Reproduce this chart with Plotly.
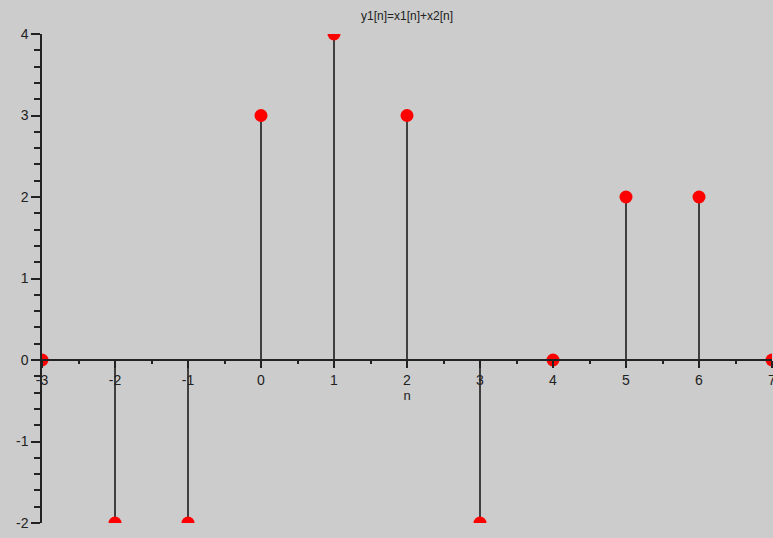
import plotly.graph_objects as go

n = [-3, -2, -1, 0, 1, 2, 3, 4, 5, 6, 7]
y1 = [0, -2, -2, 3, 4, 3, -2, 0, 2, 2, 0]

x_ticks = [-3, -2, -1, 0, 1, 2, 3, 4, 5, 6, 7]
x_ticktext = ["-3", "-2", "-1", "0", "1", "2", "3", "4", "5", "6", "7"]
y_ticks = [-2, -1, 0, 1, 2, 3, 4]
y_ticktext = ["-2", "-1", "0", "1", "2", "3", "4"]

stem_x, stem_y = [], []
for xi, yi in zip(n, y1):
    stem_x += [xi, xi, None]
    stem_y += [0, yi, None]

bg = "#cccccc"
fig = go.Figure()
fig.add_trace(go.Scatter(x=stem_x, y=stem_y, mode="lines",
                         line=dict(color="#111111", width=1.5),
                         hoverinfo="skip", showlegend=False))
fig.add_trace(go.Scatter(x=n, y=y1, mode="markers",
                         marker=dict(color="#ff0000", size=13, line=dict(width=0)),
                         showlegend=False))

fig.update_layout(
    width=773, height=538,
    paper_bgcolor=bg, plot_bgcolor=bg,
    margin=dict(l=42, r=1, t=34, b=15, autoexpand=False),
    font=dict(family="Liberation Sans, Arial, sans-serif", size=14, color="#222222"),
    title=dict(text="y1[n]=x1[n]+x2[n]", x=0.5, xref="paper", y=0.97, yref="container",
               xanchor="center", yanchor="middle",
               font=dict(size=12, color="#222222")),
    xaxis=dict(range=[-3, 7], anchor="free", position=1/3, automargin=False,
               tickvals=x_ticks, ticktext=x_ticktext,
               ticklabeloverflow="allow",
               showline=True, linecolor="#222222", linewidth=1.5,
               ticks="outside", ticklen=7, tickwidth=1.5, tickcolor="#222222",
               minor=dict(dtick=0.5, ticks="outside", ticklen=3, tickwidth=1.5, tickcolor="#222222"),
               showgrid=False, zeroline=False,
               title=dict(text="n", font=dict(size=13), standoff=2)),
    yaxis=dict(range=[-2, 4], automargin=False,
               tickvals=y_ticks, ticktext=y_ticktext,
               ticklabeloverflow="allow",
               showline=True, linecolor="#222222", linewidth=1.5,
               ticks="outside", ticklen=9, tickwidth=1.5, tickcolor="#222222",
               minor=dict(dtick=0.2, ticks="outside", ticklen=6, tickwidth=1.5, tickcolor="#222222"),
               showgrid=False, zeroline=False),
)

fig.write_html("out.html", config={"displayModeBar": False},
               post_script="document.body.style.margin='0';document.body.style.background='#cccccc';document.body.style.overflow='hidden';")
